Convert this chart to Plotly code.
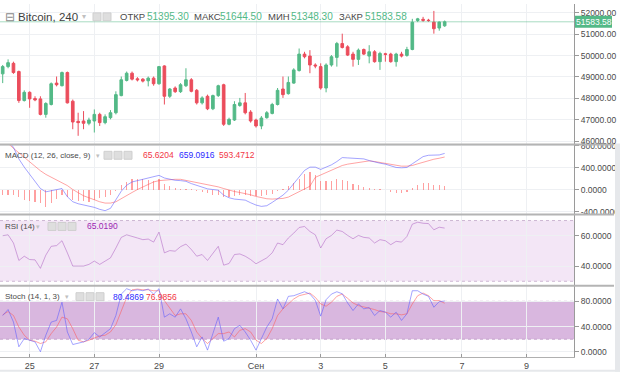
import plotly.graph_objects as go
from plotly.subplots import make_subplots

# ---------------- data (4h candles, Aug 24 – Sep 6) ----------------
open_ = [49146, 49485, 49639, 49254, 47896, 48281, 47988, 47973, 47248, 47711,
         48713, 48590, 49207, 47865, 46924, 46939, 46831, 46939, 47248, 46862,
         47093, 47325, 48127, 48837, 49176, 48914, 48898, 48821, 48945, 48683,
         49516, 48096, 48482, 48312, 48590, 48868, 48374, 47788, 48096, 47510,
         48127, 48636, 46785, 46985, 47665, 47788, 47356, 46985, 46707, 47093,
         47294, 47711, 48436, 48220, 48713, 49300, 50071, 49979, 49562, 49485,
         48482, 49562, 49917, 50565, 50411, 50071, 49824, 50287, 49979, 50179,
         49716, 50087, 50071, 49716, 50071, 50009, 50287, 51643, 51700, 51660,
         51569, 51292, 51395.30]
high = [49562, 49824, 49716, 49300, 48374, 48328, 48096, 48096, 47819, 48744,
        49022, 49254, 49254, 47942, 47325, 47402, 47093, 47479, 47325, 47248,
        47448, 48328, 49022, 49254, 49254, 48991, 48945, 49022, 49022, 49516,
        49547, 48482, 48559, 48713, 49408, 48945, 48436, 48096, 48173, 48173,
        48636, 48683, 47093, 47865, 48019, 48251, 47448, 47047, 47170, 47402,
        47788, 48482, 49022, 49022, 49408, 50333, 50179, 50256, 49639, 49639,
        49639, 50025, 50642, 51028, 50488, 50179, 50333, 50333, 50488, 50256,
        50179, 50133, 50133, 50133, 50179, 50411, 51722, 51768, 51815, 51722,
        52093, 51600, 51644.50]
low = [48713, 49408, 49146, 47788, 47850, 47556, 47865, 47202, 47093, 47665,
       48559, 48559, 47757, 46553, 46245, 46553, 46738, 46399, 46707, 46785,
       47016, 47248, 48096, 48790, 48837, 48790, 48744, 48559, 48590, 48636,
       47711, 48019, 48251, 48251, 48528, 48281, 47711, 47711, 47448, 47448,
       48065, 46707, 46738, 46939, 47603, 47248, 46862, 46630, 46553, 47047,
       47248, 47665, 48019, 48173, 48683, 49254, 49871, 49176, 49408, 48405,
       48281, 49485, 49485, 50333, 49979, 49485, 49562, 50025, 49639, 49670,
       49331, 49716, 49670, 49485, 49917, 49948, 50250, 51569, 51583, 51583,
       51028, 51167, 51348.30]
close = [49485, 49670, 49207, 47896, 48281, 47973, 47926, 47248, 47757, 48683,
         48636, 49207, 47788, 46892, 46862, 46831, 46985, 47248, 46862, 47140,
         47325, 48173, 48868, 49176, 48898, 48868, 48806, 48945, 48683, 49485,
         48096, 48436, 48312, 48636, 48868, 48328, 47788, 48019, 47510, 48127,
         48590, 46785, 47016, 47711, 47788, 47325, 46939, 46707, 47078, 47325,
         47711, 48374, 48173, 48744, 49331, 50071, 49948, 49562, 49516, 48482,
         49562, 49948, 50565, 50380, 50025, 49824, 50256, 50071, 50179, 49716,
         50102, 50056, 49716, 50071, 49979, 50287, 51560, 51722, 51653, 51640,
         51259, 51569, 51583.58]

macd_line = [980, 890, 769, 559, 409, 277, 139, 19, -41, -23,
             1, 19, -131, -221, -258, -276, -300, -324, -360, -384,
             -342, -192, -29, 79, 139, 163, 187, 211, 235, 259,
             211, 187, 169, 163, 151, 109, 79, 43, 13, 1,
             -11, -101, -149, -173, -180, -192, -240, -282, -306, -294,
             -234, -173, -101, -11, 109, 247, 349, 409, 409, 367,
             409, 451, 511, 583, 577, 571, 565, 559, 529, 499,
             481, 463, 427, 403, 397, 403, 469, 535, 601, 625,
             631, 631, 659.0916]
signal_line = [889, 841, 751, 667, 589, 511, 427, 343, 277, 223,
               169, 127, 73, 1, -59, -113, -149, -192, -222, -246,
               -246, -222, -162, -107, -53, 1, 43, 91, 139, 163,
               175, 187, 187, 187, 169, 151, 133, 109, 85, 67,
               49, 19, -11, -35, -53, -71, -95, -125, -149, -167,
               -173, -173, -161, -137, -89, -41, 1, 61, 223, 265,
               313, 355, 391, 439, 463, 481, 499, 517, 523, 511,
               493, 475, 457, 439, 427, 427, 439, 469, 499, 529,
               553, 571, 593.4712]
macd_hist = [-90, -100, -100, -130, -190, -210, -220, -250, -310, -250,
             -175, -100, -130, -190, -210, -210, -220, -190, -160, -130,
             -90, -30, 78, 138, 198, 198, 198, 168, 150, 198,
             108, 66, 30, 18, 6, 4, -30, -42, -54, -90,
             -100, -130, -130, -120, -100, -100, -114, -120, -114, -100,
             -72, -30, 18, 66, 126, 198, 288, 318, 258, 150,
             150, 150, 186, 168, 150, 108, 90, 48, 30, 12,
             2, -12, -42, -54, -54, -42, 30, 90, 126, 126,
             90, 78, 65.6204]

rsi = [60.0, 60.6, 55.2, 43.7, 46.5, 44.3, 44.1, 38.5, 47.2, 53.0,
       53.5, 56.7, 48.7, 40.0, 40.0, 40.0, 41.1, 43.3, 41.1, 43.3,
       45.4, 51.9, 58.9, 60.6, 59.3, 58.5, 57.4, 57.8, 55.8, 62.4,
       48.7, 50.2, 49.8, 52.8, 54.5, 50.9, 46.5, 47.6, 43.7, 48.5,
       53.0, 40.6, 41.7, 47.6, 48.0, 46.5, 44.3, 41.5, 43.3, 45.4,
       48.7, 55.2, 54.1, 58.5, 61.7, 65.4, 66.1, 62.8, 60.6, 51.9,
       58.0, 60.2, 63.7, 62.8, 60.2, 58.0, 60.2, 58.9, 58.5, 55.2,
       57.4, 56.7, 54.1, 56.3, 55.8, 59.5, 67.6, 68.9, 68.2, 68.0,
       63.9, 65.6, 65.019]

stoch_k = [57.5, 67.0, 47.1, 7.9, 20.9, 18.3, 15.7, 0.0, 26.2, 47.1,
           49.7, 78.5, 31.4, 11.5, 13.1, 15.7, 19.9, 30.3, 23.5, 30.3,
           36.6, 57.5, 91.5, 100.0, 96.8, 98.3, 96.8, 99.4, 91.5, 100.0,
           54.9, 60.2, 54.9, 68.0, 52.3, 31.4, 7.9, 23.5, 2.6, 28.8,
           54.9, 16.8, 20.9, 36.6, 41.9, 31.4, 18.3, 2.6, 20.9, 39.2,
           52.3, 83.7, 68.0, 87.9, 88.9, 91.5, 95.2, 91.5, 81.6, 56.5,
           82.6, 91.5, 95.2, 92.0, 77.4, 65.4, 75.8, 68.0, 70.1, 57.5,
           65.4, 62.8, 54.9, 62.8, 49.7, 60.2, 96.8, 96.8, 91.5, 87.9,
           70.6, 79.5, 80.4869]
stoch_d = [58.6, 63.8, 57.5, 39.2, 26.2, 18.3, 16.8, 13.1, 15.7, 28.8,
           39.2, 54.9, 52.3, 36.6, 18.3, 15.7, 18.3, 22.0, 25.1, 26.2,
           31.4, 42.9, 65.4, 86.3, 98.3, 99.4, 98.3, 98.3, 96.8, 96.8,
           81.1, 69.0, 57.5, 60.2, 60.2, 49.7, 31.4, 20.9, 13.1, 20.9,
           28.8, 28.8, 31.4, 23.5, 34.0, 36.6, 31.4, 18.3, 13.1, 20.9,
           36.6, 57.5, 68.0, 75.8, 83.7, 88.9, 91.5, 93.1, 86.3, 75.8,
           72.2, 78.5, 87.9, 91.5, 84.7, 77.4, 73.2, 70.6, 69.0, 66.9,
           63.8, 62.8, 60.2, 60.2, 58.6, 60.2, 75.8, 88.9, 93.1, 88.9,
           81.1, 81.1, 76.9856]

x_tick_pos = [5, 17, 29, 47, 59, 71, 85.2, 97.2]
x_tick_text = ["25", "27", "29", "Сен", "3", "5", "7", "9"]
price_ticks = [46000, 47000, 48000, 49000, 50000, 51000, 52000]
macd_ticks = [-400, 0, 400, 800]
rsi_ticks = [40, 60]
stoch_ticks = [0, 40, 80]

# ---------------- styling ----------------
W, H = 620, 372
ML, MR, MT, MB = 0, 46, 0, 15
PW, PH = W - ML - MR, H - MT - MB
GREEN = "#53b987"
RED = "#eb4d5c"
FONT = "Liberation Sans"
GRID = "#eef0f3"
AXC = "#9a9a9a"
TXT = "#4a4a4a"

def px(x):
    return (x - ML) / PW

def py(y):
    return 1 - (y - MT) / PH

idx = list(range(len(close)))

fig = make_subplots(rows=4, cols=1, shared_xaxes=True, vertical_spacing=0,
                    row_heights=[142, 71, 72, 72])

fig.add_trace(go.Candlestick(
    x=idx, open=open_, high=high, low=low, close=close,
    increasing=dict(line=dict(color=GREEN, width=1), fillcolor=GREEN),
    decreasing=dict(line=dict(color=RED, width=1), fillcolor=RED),
    whiskerwidth=0, showlegend=False, hoverinfo="skip"), row=1, col=1)

fig.add_trace(go.Bar(x=idx, y=macd_hist, width=0.22,
                     marker=dict(color="rgba(255,82,82,0.55)", line=dict(width=0)),
                     showlegend=False, hoverinfo="skip"), row=2, col=1)
fig.add_trace(go.Scatter(x=idx, y=signal_line, mode="lines",
                         line=dict(color="rgba(255,90,90,0.55)", width=1),
                         showlegend=False, hoverinfo="skip"), row=2, col=1)
fig.add_trace(go.Scatter(x=idx, y=macd_line, mode="lines",
                         line=dict(color="rgba(90,90,255,0.55)", width=1),
                         showlegend=False, hoverinfo="skip"), row=2, col=1)

fig.add_trace(go.Scatter(x=idx, y=rsi, mode="lines",
                         line=dict(color="rgba(175,100,195,0.55)", width=1),
                         showlegend=False, hoverinfo="skip"), row=3, col=1)

fig.add_trace(go.Scatter(x=idx, y=stoch_d, mode="lines",
                         line=dict(color="rgba(255,90,90,0.55)", width=1),
                         showlegend=False, hoverinfo="skip"), row=4, col=1)
fig.add_trace(go.Scatter(x=idx, y=stoch_k, mode="lines",
                         line=dict(color="rgba(90,90,255,0.55)", width=1),
                         showlegend=False, hoverinfo="skip"), row=4, col=1)

fig.update_xaxes(range=[-0.5, 106], tickvals=x_tick_pos, ticktext=x_tick_text,
                 showgrid=True, gridcolor=GRID, gridwidth=1, zeroline=False,
                 rangeslider_visible=False, showticklabels=False, ticks="")
fig.update_xaxes(showticklabels=True, ticks="inside", ticklen=3, tickcolor=AXC,
                 showline=True, linecolor="#b0b0b0",
                 tickfont=dict(family=FONT, size=9, color=TXT), row=4, col=1)

yax_common = dict(side="right", ticks="outside", ticklen=4, tickcolor=AXC,
                  showline=True, linecolor=AXC, showgrid=True, gridcolor=GRID,
                  zeroline=False, tickfont=dict(family=FONT, size=8.5, color=TXT))
fig.update_yaxes(range=[45842, 52417], tickvals=price_ticks,
                 ticktext=[f"{v:.2f}" for v in price_ticks], row=1, col=1, **yax_common)
fig.update_yaxes(range=[-456, 823], tickvals=macd_ticks,
                 ticktext=[f"{v:.4f}" for v in macd_ticks], row=2, col=1, **yax_common)
fig.update_yaxes(range=[27.0, 73.9], tickvals=rsi_ticks,
                 ticktext=[f"{v:.4f}" for v in rsi_ticks], row=3, col=1, **yax_common)
fig.update_yaxes(range=[-8.3, 104.6], tickvals=stoch_ticks,
                 ticktext=[f"{v:.4f}" for v in stoch_ticks], row=4, col=1, **yax_common)

shapes = []
# RSI band
shapes.append(dict(type="rect", xref="x3 domain", yref="y3", x0=0, x1=1, y0=30, y1=70,
                   fillcolor="#f3e6f6", line=dict(width=0), layer="below"))
for v in (30, 70):
    shapes.append(dict(type="line", xref="x3 domain", yref="y3", x0=0, x1=1, y0=v, y1=v,
                       line=dict(color="#cdb7d3", width=1, dash="dot"), layer="below"))
# Stoch band
shapes.append(dict(type="rect", xref="x4 domain", yref="y4", x0=0, x1=1, y0=20, y1=80,
                   fillcolor="#d9b7df", line=dict(width=0), layer="below"))
for v in (20, 80):
    shapes.append(dict(type="line", xref="x4 domain", yref="y4", x0=0, x1=1, y0=v, y1=v,
                       line=dict(color="#c3a3ca", width=1, dash="dot"), layer="below"))
# current price line
shapes.append(dict(type="line", xref="x domain", yref="y", x0=0, x1=1,
                   y0=close[-1], y1=close[-1],
                   line=dict(color="rgba(83,185,135,0.5)", width=1)))
# panel separators
for ys in (142, 213, 285):
    shapes.append(dict(type="line", xref="paper", yref="paper", x0=px(0), x1=px(614),
                       y0=py(ys), y1=py(ys), line=dict(color="#b4b4b4", width=2)))
# price label box on axis
shapes.append(dict(type="rect", xref="paper", yref="paper", x0=px(575), x1=px(612),
                   y0=py(24), y1=py(12), fillcolor=GREEN, line=dict(width=0)))
# right and bottom grey strips
shapes.append(dict(type="rect", xref="paper", yref="paper", x0=px(615), x1=px(620),
                   y0=py(372), y1=py(141), fillcolor="#e6e8eb", line=dict(width=0)))
shapes.append(dict(type="rect", xref="paper", yref="paper", x0=px(0), x1=px(620),
                   y0=py(372), y1=py(370), fillcolor="#e6e8eb", line=dict(width=0)))

# legend icon boxes
def icons(xs, yc):
    for x0 in xs:
        shapes.append(dict(type="rect", xref="paper", yref="paper",
                           x0=px(x0), x1=px(x0 + 8), y0=py(yc + 4), y1=py(yc - 4),
                           fillcolor="#dedede", line=dict(color="#cfcfcf", width=1)))
icons([93, 103], 13)
icons([104, 114, 124], 153)
icons([48, 58, 68], 225)
icons([76, 86, 96], 296)

fig.update_layout(shapes=shapes)

anns = []
def txt(x, y, s, color=TXT, size=9, anchor="left"):
    anns.append(dict(xref="paper", yref="paper", x=px(x), y=py(y), text=s,
                     showarrow=False, xanchor=anchor, yanchor="middle",
                     font=dict(family=FONT, size=size, color=color)))

txt(3, 13, "⊟", color="#8a8a8a", size=12)
txt(16, 13, "Bitcoin, 240", color="#3e3e3e", size=11.5)
txt(80, 13, "▾", color="#c0c0c0", size=8)
txt(118, 13, "ОТКР", color="#4a4a4a", size=9.5)
txt(145, 13, "51395.30", color=GREEN, size=10)
txt(192, 13, "МАКС", color="#4a4a4a", size=9.5)
txt(218, 13, "51644.50", color=GREEN, size=10)
txt(266, 13, "МИН", color="#4a4a4a", size=9.5)
txt(289, 13, "51348.30", color=GREEN, size=10)
txt(337, 13, "ЗАКР", color="#4a4a4a", size=9.5)
txt(363, 13, "51583.58", color=GREEN, size=10)
txt(593.5, 18, "51583.58", color="white", size=8.5, anchor="center")

txt(3, 153, "MACD (12, 26, close, 9)", size=8)
txt(94, 153, "▾", color="#c0c0c0", size=7)
txt(141, 153, "65.6204", color="#f23645", size=8.5)
txt(177, 153, "659.0916", color="#2b2bff", size=8.5)
txt(217, 153, "593.4712", color="#f23645", size=8.5)

txt(3, 225, "RSI (14)", size=8)
txt(34, 225, "▾", color="#c0c0c0", size=7)
txt(85, 225, "65.0190", color="#9c27b0", size=8.5)

txt(3, 296, "Stoch (14, 1, 3)", size=8)
txt(63, 296, "▾", color="#c0c0c0", size=7)
txt(111, 296, "80.4869", color="#2b2bff", size=8.5)
txt(144, 296, "76.9856", color="#f23645", size=8.5)

fig.update_layout(annotations=anns)

fig.update_layout(width=W, height=H, margin=dict(l=ML, r=MR, t=MT, b=MB),
                  plot_bgcolor="white", paper_bgcolor="white", showlegend=False,
                  bargap=0, boxgap=0.3, font=dict(family=FONT))

fig.write_html("out.html", config={"displayModeBar": False, "staticPlot": True},
               post_script="document.body.style.margin='0px';document.body.style.overflow='hidden';")
